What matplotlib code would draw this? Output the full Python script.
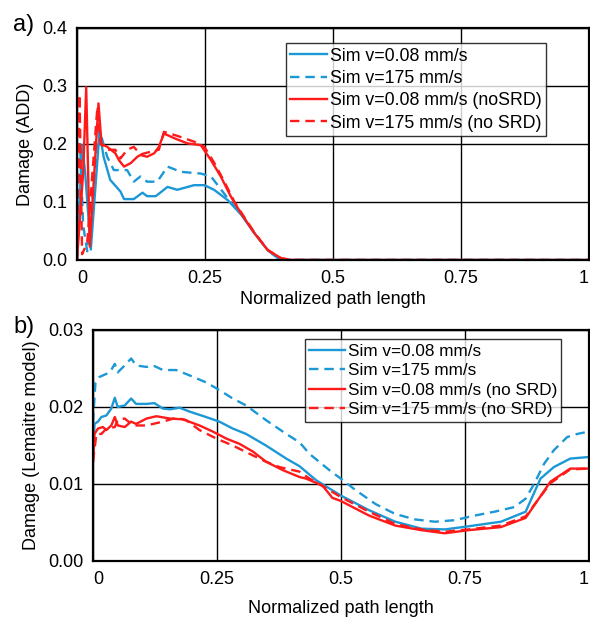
import matplotlib.pyplot as plt
from matplotlib.lines import Line2D

plt.rcParams['font.family'] = ['Liberation Sans', 'DejaVu Sans']

blue = '#1b98d5'
red = '#ff1a1a'

# ---- panel a: Damage (ADD) ----
a_blue_x = [0, 0.010, 0.016, 0.027, 0.044, 0.052, 0.065, 0.079, 0.085, 0.092, 0.111, 0.128,
            0.137, 0.154, 0.177, 0.196, 0.229, 0.249, 0.268, 0.295, 0.321, 0.347, 0.373, 0.393, 0.405, 1.0]
a_blue_y = [0, 0.198, 0.150, 0.018, 0.221, 0.178, 0.138, 0.124, 0.118, 0.105, 0.105, 0.116,
            0.110, 0.110, 0.126, 0.121, 0.129, 0.129, 0.121, 0.103, 0.078, 0.046, 0.017, 0.003, 0, 0]

a_blued_x = [0, 0.006, 0.012, 0.020, 0.044, 0.059, 0.072, 0.085, 0.098, 0.111, 0.124, 0.137,
             0.157, 0.177, 0.203, 0.242, 0.262, 0.295, 0.308, 0.321, 0.347, 0.373, 0.393, 0.405, 1.0]
a_blued_y = [0, 0.200, 0.060, 0.015, 0.224, 0.178, 0.155, 0.155, 0.155, 0.135, 0.144, 0.135,
             0.135, 0.161, 0.152, 0.149, 0.144, 0.106, 0.092, 0.080, 0.046, 0.017, 0.003, 0, 0]

a_red_x = [0, 0.012, 0.018, 0.025, 0.042, 0.048, 0.059, 0.075, 0.082, 0.092, 0.105, 0.118, 0.124,
           0.137, 0.151, 0.160, 0.170, 0.190, 0.216, 0.242, 0.262, 0.281, 0.301, 0.321, 0.347,
           0.373, 0.399, 0.419, 1.0]
a_red_y = [0, 0.150, 0.298, 0.023, 0.270, 0.200, 0.195, 0.184, 0.172, 0.161, 0.167, 0.178, 0.181,
           0.178, 0.184, 0.195, 0.218, 0.210, 0.201, 0.198, 0.172, 0.144, 0.109, 0.080, 0.046,
           0.017, 0.003, 0, 0]

a_redd_x = [0, 0.005, 0.010, 0.020, 0.040, 0.046, 0.059, 0.075, 0.085, 0.098, 0.111, 0.124,
            0.137, 0.160, 0.170, 0.196, 0.229, 0.249, 0.268, 0.288, 0.308, 0.321, 0.347, 0.373,
            0.399, 0.419, 1.0]
a_redd_y = [0, 0.285, 0.010, 0.030, 0.265, 0.200, 0.190, 0.190, 0.175, 0.190, 0.195, 0.182,
            0.185, 0.190, 0.221, 0.214, 0.204, 0.195, 0.168, 0.135, 0.100, 0.082, 0.047, 0.017,
            0.003, 0, 0]

# ---- panel b: Damage (Lemaitre model) ----
b_blue_x = [0, 0.003, 0.010, 0.017, 0.027, 0.037, 0.044, 0.050, 0.064, 0.077, 0.087, 0.108, 0.124,
            0.141, 0.155, 0.175, 0.195, 0.228, 0.255, 0.282, 0.309, 0.349, 0.390, 0.417, 0.45,
            0.5, 0.557, 0.610, 0.663, 0.710, 0.757, 0.823, 0.873, 0.903, 0.930, 0.963, 1.0]
b_blue_y = [0.0130, 0.0178, 0.0181, 0.0187, 0.0189, 0.0198, 0.0212, 0.0200, 0.0202, 0.0211, 0.0204,
            0.0204, 0.0205, 0.0198, 0.0197, 0.0199, 0.0194, 0.0187, 0.0181, 0.0172, 0.0165, 0.0150,
            0.0133, 0.0123, 0.0105, 0.0085, 0.0066, 0.0051, 0.0042, 0.0041, 0.0045, 0.0051,
            0.0064, 0.0107, 0.0122, 0.0133, 0.0135]

b_blued_x = [0, 0.005, 0.013, 0.034, 0.044, 0.050, 0.064, 0.077, 0.087, 0.108, 0.121, 0.141, 0.168,
             0.195, 0.228, 0.255, 0.282, 0.309, 0.349, 0.390, 0.417, 0.437, 0.477, 0.5, 0.530,
             0.570, 0.610, 0.650, 0.690, 0.730, 0.770, 0.810, 0.850, 0.873, 0.890, 0.910, 0.930,
             0.957, 0.977, 1.0]
b_blued_y = [0.0180, 0.0232, 0.0239, 0.0245, 0.0256, 0.0245, 0.0254, 0.0263, 0.0254, 0.0252, 0.0254,
             0.0248, 0.0248, 0.0241, 0.0232, 0.0222, 0.0211, 0.0202, 0.0183, 0.0165, 0.0154, 0.0139,
             0.0118, 0.0107, 0.0092, 0.0074, 0.0061, 0.0054, 0.0051, 0.0053, 0.0059, 0.0064,
             0.0070, 0.0081, 0.0100, 0.0126, 0.0144, 0.0161, 0.0165, 0.0168]

b_red_x = [0, 0.003, 0.010, 0.020, 0.027, 0.037, 0.044, 0.050, 0.064, 0.077, 0.087, 0.108, 0.128,
           0.155, 0.181, 0.215, 0.242, 0.269, 0.296, 0.323, 0.349, 0.383, 0.417, 0.43, 0.463,
           0.483, 0.5, 0.557, 0.610, 0.663, 0.710, 0.757, 0.823, 0.873, 0.923, 0.963, 1.0]
b_red_y = [0.0129, 0.0165, 0.0172, 0.0174, 0.0170, 0.0176, 0.0187, 0.0176, 0.0174, 0.0181, 0.0178,
           0.0185, 0.0188, 0.0185, 0.0184, 0.0176, 0.0168, 0.0159, 0.0152, 0.0142, 0.0129,
           0.0118, 0.0109, 0.0107, 0.0098, 0.0082, 0.0078, 0.0059, 0.0046, 0.0040, 0.0036,
           0.0040, 0.0044, 0.0056, 0.0103, 0.0120, 0.0120]

b_redd_x = [0, 0.007, 0.017, 0.027, 0.044, 0.050, 0.064, 0.081, 0.108, 0.141, 0.168, 0.188, 0.215,
            0.249, 0.282, 0.323, 0.349, 0.376, 0.417, 0.437, 0.477, 0.5, 0.557, 0.610, 0.663,
            0.710, 0.757, 0.823, 0.873, 0.923, 0.963, 1.0]
b_redd_y = [0.0129, 0.0165, 0.0165, 0.0172, 0.0174, 0.0183, 0.0185, 0.0176, 0.0176, 0.0181, 0.0186,
            0.0183, 0.0170, 0.0159, 0.0150, 0.0137, 0.0129, 0.0122, 0.0116, 0.0107, 0.0092,
            0.0083, 0.0064, 0.0048, 0.0041, 0.0038, 0.0041, 0.0046, 0.0058, 0.0101, 0.0119, 0.0120]

x_ticks = [0, 0.25, 0.5, 0.75, 1]
x_labels = ['0', '0.25', '0.5', '0.75', '1']
a_yticks = [0, 0.1, 0.2, 0.3, 0.4]
a_ylabels = ['0.0', '0.1', '0.2', '0.3', '0.4']
b_yticks = [0, 0.01, 0.02, 0.03]
b_ylabels = ['0.00', '0.01', '0.02', '0.03']

a_legend = ['Sim v=0.08 mm/s', 'Sim v=175 mm/s', 'Sim v=0.08 mm/s (noSRD)', 'Sim v=175 mm/s (no SRD)']
b_legend = ['Sim v=0.08 mm/s', 'Sim v=175 mm/s', 'Sim v=0.08 mm/s (no SRD)', 'Sim v=175 mm/s (no SRD)']

fs = 13
lw = 1.7
dash = (0, (4, 2.5))

fig = plt.figure(figsize=(5.9, 6.19), dpi=100)
ax1 = fig.add_axes([0.1305, 0.58, 0.867, 0.3748])
ax2 = fig.add_axes([0.1576, 0.0937, 0.840, 0.3732])


def style(ax, yticks, ylabels, ylim, xpad):
    ax.set_xlim(0, 1)
    ax.set_ylim(*ylim)
    ax.set_xticks(x_ticks)
    ax.set_xticklabels(x_labels, fontsize=fs)
    ax.set_yticks(yticks)
    ax.set_yticklabels(ylabels, fontsize=fs)
    ax.tick_params(length=0, pad=7)
    ax.get_xticklabels()[0].set_ha('left')
    ax.get_xticklabels()[-1].set_ha('right')
    ax.grid(True, color='black', lw=1.0)
    ax.set_axisbelow(True)
    for s in ax.spines.values():
        s.set_linewidth(1.6)
    ax.set_xlabel('Normalized path length', fontsize=fs, labelpad=xpad)


def handles():
    return [Line2D([], [], color=blue, lw=lw),
            Line2D([], [], color=blue, lw=lw, linestyle=dash),
            Line2D([], [], color=red, lw=lw),
            Line2D([], [], color=red, lw=lw, linestyle=dash)]


def add_legend(ax, labels, anchor, size, spacing):
    leg = ax.legend(handles(), labels, loc='upper left', bbox_to_anchor=anchor,
                    fontsize=size, frameon=True, fancybox=False, edgecolor='black',
                    handlelength=2.1, handletextpad=0.15, borderpad=0.25, labelspacing=spacing,
                    borderaxespad=0)
    leg.get_frame().set_linewidth(1.0)


ax1.plot(a_blue_x, a_blue_y, color=blue, lw=lw)
ax1.plot(a_blued_x, a_blued_y, color=blue, lw=lw, linestyle=dash)
ax1.plot(a_red_x, a_red_y, color=red, lw=lw)
ax1.plot(a_redd_x, a_redd_y, color=red, lw=lw, linestyle=dash)
style(ax1, a_yticks, a_ylabels, (0, 0.4), 3)
ax1.set_ylabel('Damage (ADD)', fontsize=fs, labelpad=6)
add_legend(ax1, a_legend, (0.408, 0.935), 12.8, 0.3)

ax2.plot(b_blue_x, b_blue_y, color=blue, lw=lw)
ax2.plot(b_blued_x, b_blued_y, color=blue, lw=lw, linestyle=dash)
ax2.plot(b_red_x, b_red_y, color=red, lw=lw)
ax2.plot(b_redd_x, b_redd_y, color=red, lw=lw, linestyle=dash)
style(ax2, b_yticks, b_ylabels, (0, 0.03), 9)
ax2.set_ylabel('Damage (Lemaitre model)', fontsize=fs, labelpad=6)
add_legend(ax2, b_legend, (0.428, 0.96), 12.3, 0.27)

fig.text(0.022, 0.978, 'a)', fontsize=17, va='top')
fig.text(0.022, 0.49, 'b)', fontsize=17, va='top')

plt.savefig('out.png', dpi=100)
